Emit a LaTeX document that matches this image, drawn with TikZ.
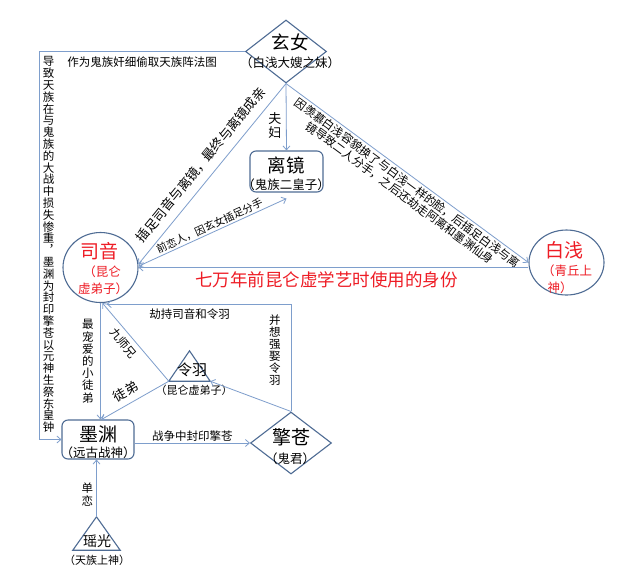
\documentclass[tikz,border=0pt]{standalone}
\usepackage{fontspec}
\setmainfont{Noto Sans CJK SC}
\usetikzlibrary{shapes.geometric,arrows.meta,calc}
\definecolor{lineblue}{HTML}{7E9ECC}
\definecolor{nodeblue}{HTML}{4F6C94}
\definecolor{cred}{HTML}{EE1C25}
\tikzset{
  conn/.style={draw=lineblue, line width=0.8pt},
  arr/.style={conn, -{Straight Barb[length=4pt,width=7pt]}},
  darr/.style={conn, {Straight Barb[length=4pt,width=7pt]}-{Straight Barb[length=4pt,width=7pt]}},
  shp/.style={draw=nodeblue, line width=1.1pt, inner sep=0pt},
  nm/.style={inner sep=0pt, font={\fontsize{19}{21}\selectfont}},
  subt/.style={inner sep=0pt, font={\fontsize{12.5}{14}\selectfont}},
  subs/.style={inner sep=0pt, font={\fontsize{11}{13}\selectfont}},
  lbl/.style={inner sep=0pt, font={\fontsize{11.5}{12.5}\selectfont}},
  vlbl/.style={inner sep=0pt, align=center, font={\fontsize{11.5}{11.8}\selectfont\lineskiplimit=-8pt}},
  redt/.style={text=cred},
}
\begin{document}
\begin{tikzpicture}[x=1pt,y=-1pt]
\fill[white] (0,0) rectangle (628,574);
\useasboundingbox (0,0) rectangle (628,574);

% ---- nodes ----
\node[diamond, shp, minimum width=81pt, minimum height=63pt] (xn) at (286,51.5) {};
\node[nm, font={\fontsize{18.5}{20}\selectfont}] (xnT) at (290,42) {玄女};
\node[subt] (xnS) at (290,63) {（白浅大嫂之妹）};

\node[rectangle, rounded corners=6pt, shp, minimum width=73pt, minimum height=41pt] (lj) at (286.5,171.5) {};
\node[nm, font={\fontsize{18.5}{20}\selectfont}] (ljT) at (286,165) {离镜};
\node[subt] (ljS) at (286,185) {（鬼族二皇子）};

\node[ellipse, shp, minimum width=75pt, minimum height=70pt] (sy) at (100.5,267.5) {};
\node[nm, redt] (syT) at (99,251) {司音};
\node[subt, redt] (syS1) at (102,272) {（昆仑};
\node[subt, redt] (syS2) at (103,289) {虚弟子）};

\node[ellipse, shp, minimum width=75pt, minimum height=65pt] (bq) at (566.5,262.5) {};
\node[nm, redt] (bqT) at (564,250) {白浅};
\node[subt, redt] (bqS1) at (567,271) {（青丘上};
\node[subt, redt] (bqS2) at (560,288) {神）};

\node[rectangle, rounded corners=6pt, shp, minimum width=72pt, minimum height=39pt] (my) at (98,439.5) {};
\node[nm] (myT) at (98,434) {墨渊};
\node[subt] (myS) at (98,453) {（远古战神）};

\node[diamond, shp, minimum width=81pt, minimum height=62pt] (qc) at (291,443) {};
\node[nm] (qcT) at (291,437) {擎苍};
\node[subt] (qcS) at (290,458.5) {（鬼君）};

\node[inner sep=0pt, minimum width=41pt, minimum height=30pt] (ly) at (189.5,366) {};
\draw[shp] (ly.south west) -- (ly.north) -- (ly.south east) -- cycle;
\node[nm, font={\fontsize{15}{17}\selectfont}] (lyT) at (192,370) {令羽};
\node[subs] (lyS) at (194,390) {（昆仑虚弟子）};

\node[inner sep=0pt, minimum width=47pt, minimum height=33pt] (yg) at (96.5,533.5) {};
\draw[shp] (yg.south west) -- (yg.north) -- (yg.south east) -- cycle;
\node[nm, font={\fontsize{14}{16}\selectfont}] (ygT) at (97,541) {瑶光};
\node[subs] (ygS) at (97,560) {（天族上神）};

\coordinate (lft) at (39.5,0);

% ---- connectors ----
\draw[arr] (xn.south) -- (lj.north)
  node[pos=0.62, left=4.5pt, vlbl, font={\fontsize{13}{14}\selectfont}] (lbFF) {夫\\妇};

\draw[arr] (xn.south) -- (sy.5)
  node[pos=0.5, sloped, above=8pt, lbl, font={\fontsize{13}{14}\selectfont}] (lbXS) {插足司音与离镜，最终与离镜成亲};

\draw[darr] (sy.2) -- ([yshift=-6pt]lj.south)
  node[pos=0.5, sloped, above=1.5pt, lbl, font={\fontsize{10.5}{12}\selectfont}] (lbQL) {前恋人，因玄女插足分手};

\draw[arr] (xn.south) -- (bq.west)
  node[pos=0.52, sloped, below=2pt, lbl, align=center, font={\fontsize{11.5}{12.5}\selectfont\lineskiplimit=-8pt}] (lbXB)
  {因羡慕白浅容貌换了与白浅一样的脸，后插足白浅与离\\镜导致二人分手，之后还劫走阿离和墨渊仙身};

\draw[arr] (bq.west |- sy.east) -- (sy.east)
  node[pos=0.518, below=4pt, lbl, redt, font={\fontsize{17.5}{19}\selectfont}] (lbQW) {七万年前昆仑虚学艺时使用的身份};

\draw[arr] (ly.south west) -- (sy.-87)
  node[pos=0.57, sloped, below=4pt, lbl] (lbJS) {九师兄};

\draw[arr] (ly.south west) -- (my.80)
  node[pos=0.55, sloped, above=6pt, lbl, font={\fontsize{13}{14}\selectfont}] (lbTD) {徒弟};

\draw[arr] (sy.south) -- (sy.south |- my.north)
  node[midway, left=6.5pt, vlbl, font={\fontsize{11.5}{12.2}\selectfont\lineskiplimit=-8pt}] (lbZC) {最\\宠\\爱\\的\\小\\徒\\弟};

\draw[arr] (qc.north) -- (ly.south east);

\draw[arr] (qc.north) |- ([yshift=-1.5pt]sy.-80)
  node[pos=0.287, left=10pt, vlbl, font={\fontsize{11.5}{12}\selectfont\lineskiplimit=-8pt}] (lbBX) {并\\想\\强\\娶\\令\\羽}
  node[pos=0.775, below=4.5pt, lbl] (lbJC) {劫持司音和令羽};

\draw[arr] (my.east |- qc.west) -- (qc.west)
  node[midway, above=1pt, lbl] (lbZZ) {战争中封印擎苍};

\draw[arr] (yg.north) -- (yg.north |- my.south)
  node[pos=0.39, left=3pt, vlbl, font={\fontsize{11.5}{13}\selectfont\lineskiplimit=-8pt}] (lbDL) {单\\恋};

\draw[arr] (xn.west) -- node[midway, below=5pt, lbl] (lbZW) {作为鬼族奸细偷取天族阵法图} (xn.west -| lft)
  |- node[pos=0.249, right=3pt, vlbl] (lbDZ) {导\\致\\天\\族\\在\\与\\鬼\\族\\的\\大\\战\\中\\损\\失\\惨\\重\\︐\\墨\\渊\\为\\封\\印\\擎\\苍\\以\\元\\神\\生\\祭\\东\\皇\\钟} (my.west);

\end{tikzpicture}
\end{document}
